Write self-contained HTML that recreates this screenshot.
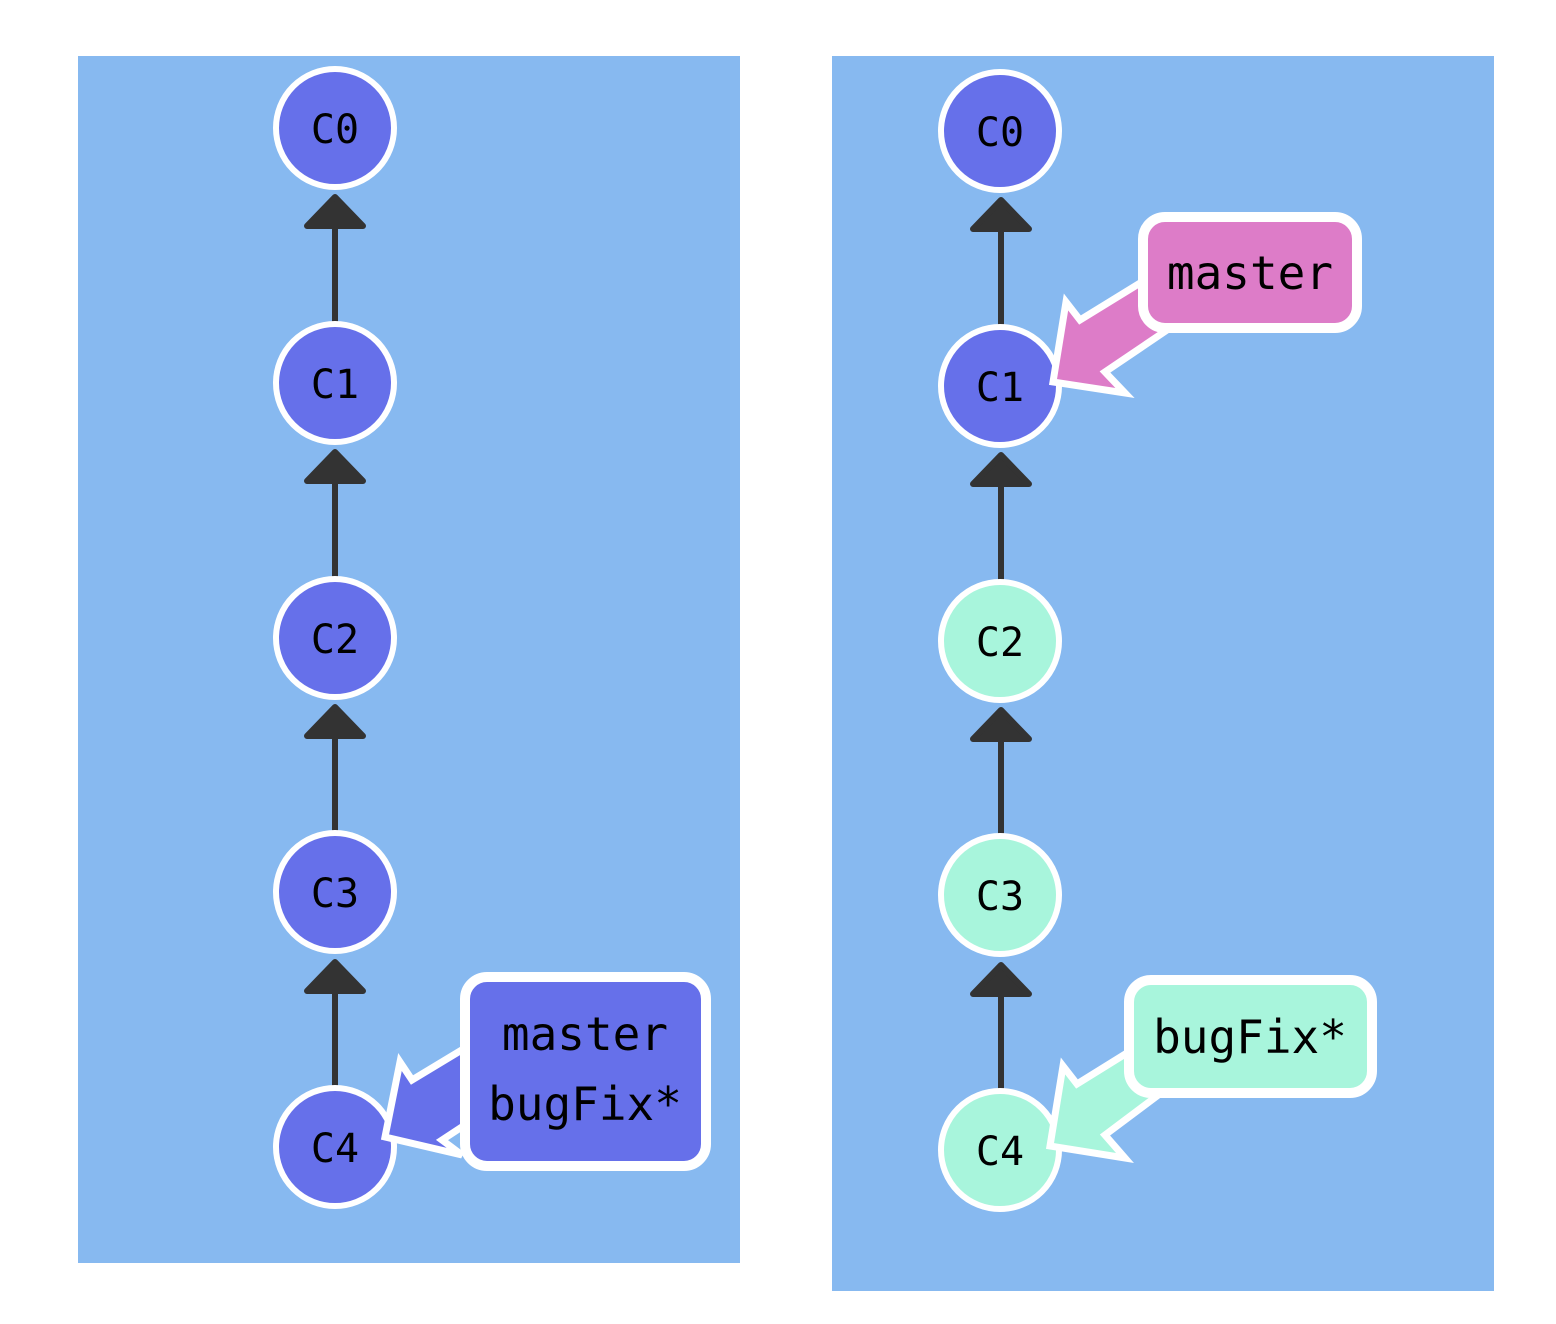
<!DOCTYPE html>
<html><head><style>html,body{margin:0;padding:0;background:#fff}svg{display:block}</style></head><body>
<svg width="1556" height="1324" viewBox="0 0 1556 1324" xmlns="http://www.w3.org/2000/svg" font-family="'DejaVu Sans Mono','Liberation Mono',monospace">
<rect x="78" y="56" width="662" height="1207" fill="#87b9f0"/>
<rect x="832" y="56" width="662" height="1235" fill="#87b9f0"/>
<g stroke="#333" stroke-width="6" fill="#333" stroke-linejoin="round">
 <line x1="335" y1="325" x2="335" y2="220"/><polygon points="307,226 363,226 335,197"/>
 <line x1="335" y1="580" x2="335" y2="475"/><polygon points="307,481 363,481 335,452"/>
 <line x1="335" y1="835" x2="335" y2="730"/><polygon points="307,736 363,736 335,707"/>
 <line x1="335" y1="1090" x2="335" y2="985"/><polygon points="307,991 363,991 335,962"/>
 <line x1="1001" y1="328" x2="1001" y2="223"/><polygon points="973,229 1029,229 1001,200"/>
 <line x1="1001" y1="583" x2="1001" y2="478"/><polygon points="973,484 1029,484 1001,455"/>
 <line x1="1001" y1="838" x2="1001" y2="733"/><polygon points="973,739 1029,739 1001,710"/>
 <line x1="1001" y1="1093" x2="1001" y2="988"/><polygon points="973,994 1029,994 1001,965"/>
</g>
<g stroke="#fff" stroke-width="6" font-size="40" text-anchor="middle">
 <circle cx="335" cy="128" r="59" fill="#6670ea"/>
 <circle cx="335" cy="383" r="59" fill="#6670ea"/>
 <circle cx="335" cy="638" r="59" fill="#6670ea"/>
 <circle cx="335" cy="892" r="59" fill="#6670ea"/>
 <circle cx="335" cy="1147" r="59" fill="#6670ea"/>
 <circle cx="1000" cy="131" r="59" fill="#6670ea"/>
 <circle cx="1000" cy="386" r="59" fill="#6670ea"/>
 <circle cx="1000" cy="641" r="59" fill="#a8f5dc"/>
 <circle cx="1000" cy="895" r="59" fill="#a8f5dc"/>
 <circle cx="1000" cy="1150" r="59" fill="#a8f5dc"/>
</g>
<g font-size="40" text-anchor="middle" fill="#000">
 <text x="335" y="143">C0</text><text x="335" y="398">C1</text><text x="335" y="653">C2</text><text x="335" y="907">C3</text><text x="335" y="1162">C4</text>
 <text x="1000" y="146">C0</text><text x="1000" y="401">C1</text><text x="1000" y="656">C2</text><text x="1000" y="910">C3</text><text x="1000" y="1165">C4</text>
</g>
<!-- arrows -->
<g stroke="#fff" stroke-width="7" stroke-linejoin="miter">
 <polygon points="385,1137 400,1062 412,1080 470,1045 480,1115 442,1140 462,1155" fill="#6670ea"/>
 <polygon points="1053,382 1066,302 1080,320 1145,280 1170,328 1105,372 1125,393" fill="#dd7cc8"/>
 <polygon points="1050,1146 1063,1066 1077,1084 1135,1048 1165,1090 1105,1135 1125,1158" fill="#a8f5dc"/>
</g>
<g stroke="#fff" stroke-width="10">
 <rect x="465" y="977" width="241" height="189" rx="22" fill="#6670ea"/>
 <rect x="1143" y="217" width="214" height="111" rx="22" fill="#dd7cc8"/>
 <rect x="1129" y="980" width="243" height="113" rx="22" fill="#a8f5dc"/>
</g>
<g font-size="46" text-anchor="middle" fill="#000">
 <text x="585" y="1050">master</text>
 <text x="585" y="1120">bugFix*</text>
 <text x="1250" y="289">master</text>
 <text x="1250" y="1053">bugFix*</text>
</g>
</svg>
</body></html>
